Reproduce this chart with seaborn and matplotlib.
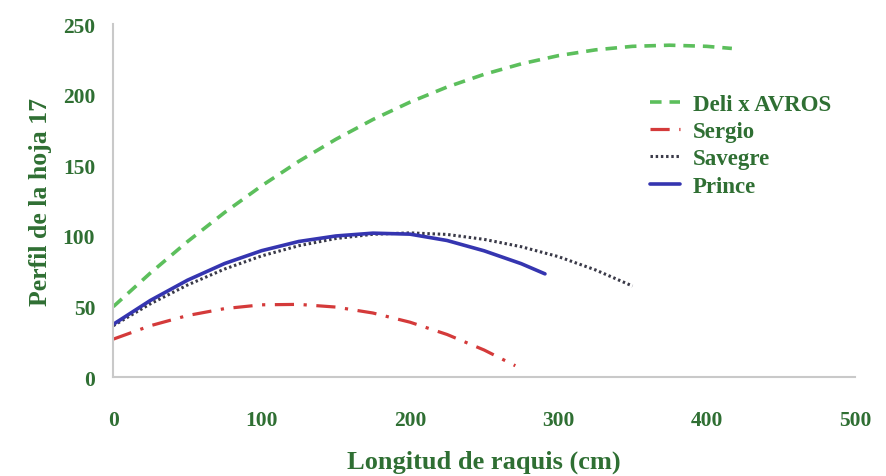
import matplotlib
matplotlib.use("Agg")
import matplotlib.pyplot as plt
import seaborn as sns
import pandas as pd

# ---- data ----
deli_x = [0, 25, 50, 75, 100, 125, 150, 175, 200, 225, 250, 275, 300, 325, 350, 375, 400, 417]
deli_y = [50.0, 73.8, 96.0, 116.6, 135.5, 152.8, 168.4, 182.4, 194.7, 205.4, 214.4, 221.8, 227.6, 231.7, 234.2, 235.0, 234.2, 232.7]

sergio_x = [0, 25, 50, 75, 100, 125, 150, 175, 200, 225, 250, 271]
sergio_y = [27.0, 36.5, 43.7, 48.6, 51.3, 51.6, 49.7, 45.5, 39.0, 30.3, 19.3, 8.2]

savegre_x = [0, 25, 50, 75, 100, 125, 150, 175, 200, 225, 250, 275, 300, 325, 350]
savegre_y = [36.5, 52.0, 65.3, 76.6, 85.9, 93.1, 98.2, 101.2, 102.2, 101.1, 97.6, 92.4, 85.4, 76.0, 64.6]

prince_x = [0, 25, 50, 75, 100, 125, 150, 175, 200, 225, 250, 275, 291]
prince_y = [37.5, 54.4, 68.7, 80.5, 89.6, 96.1, 100.0, 102.0, 101.3, 96.8, 89.5, 80.4, 73.2]

series_names = ["Deli x AVROS", "Sergio", "Savegre", "Prince"]
x_ticks = [0, 100, 200, 300, 400, 500]
y_ticks = [0, 50, 100, 150, 200, 250]
x_label = "Longitud de raquis (cm)"
y_label = "Perfil de la hoja 17"

# ---- styling ----
sns.set_style("white")
plt.rcParams["font.family"] = ["Liberation Serif", "DejaVu Serif"]
plt.rcParams["font.weight"] = "bold"

TEXT = "#2f6f33"
SPINE = "#c9c9c9"

fig = plt.figure(figsize=(8.86, 4.77), dpi=100)
ax = fig.add_axes([113.3 / 886, 1 - 378.3 / 477, (855 - 113.3) / 886, (378.3 - 25) / 477])

styles = {
    "Deli x AVROS": dict(color="#5cbf5c", linestyle=(0, (3.2, 2.2)), linewidth=2.6),
    "Sergio": dict(color="#d43a3a", linestyle=(0, (6, 3, 1, 3)), linewidth=2.3),
    "Savegre": dict(color="#3a3a48", linestyle=(0, (0.8, 0.9)), linewidth=2.2),
    "Prince": dict(color="#3535b0", linestyle="-", linewidth=2.6),
}
data = {
    "Deli x AVROS": (deli_x, deli_y),
    "Sergio": (sergio_x, sergio_y),
    "Savegre": (savegre_x, savegre_y),
    "Prince": (prince_x, prince_y),
}

for name in series_names:
    xs, ys = data[name]
    df = pd.DataFrame({"x": xs, "y": ys})
    sns.lineplot(data=df, x="x", y="y", ax=ax, label=name, **styles[name])

ax.set_xlim(0, 500)
ax.set_ylim(0, 250)
ax.set_xticks(x_ticks)
ax.set_yticks(y_ticks)

for side in ["top", "right"]:
    ax.spines[side].set_visible(False)
for side in ["left", "bottom"]:
    ax.spines[side].set_color(SPINE)
    ax.spines[side].set_linewidth(1.5)

ax.tick_params(axis="x", direction="inout", length=9, width=1.2, color=SPINE,
               pad=19, labelsize=15.5, labelcolor=TEXT)
ax.tick_params(axis="y", direction="out", length=8, width=1.2, color=SPINE,
               pad=5, labelsize=15.5, labelcolor=TEXT)
for lab in ax.get_xticklabels() + ax.get_yticklabels():
    lab.set_fontweight("bold")

ax.set_xlabel(x_label, fontsize=19, fontweight="bold", color=TEXT, labelpad=14)
ax.set_ylabel(y_label, fontsize=18.5, fontweight="bold", color=TEXT, labelpad=8)

leg = ax.legend(loc="upper left", bbox_to_anchor=(0.7236, 0.803), frameon=False,
                fontsize=16.5, handlelength=1.3, handletextpad=0.57, labelspacing=0.275,
                borderpad=0, borderaxespad=0)
for t in leg.get_texts():
    t.set_color(TEXT)
    t.set_fontweight("bold")

fig.savefig("out.png", dpi=100)
